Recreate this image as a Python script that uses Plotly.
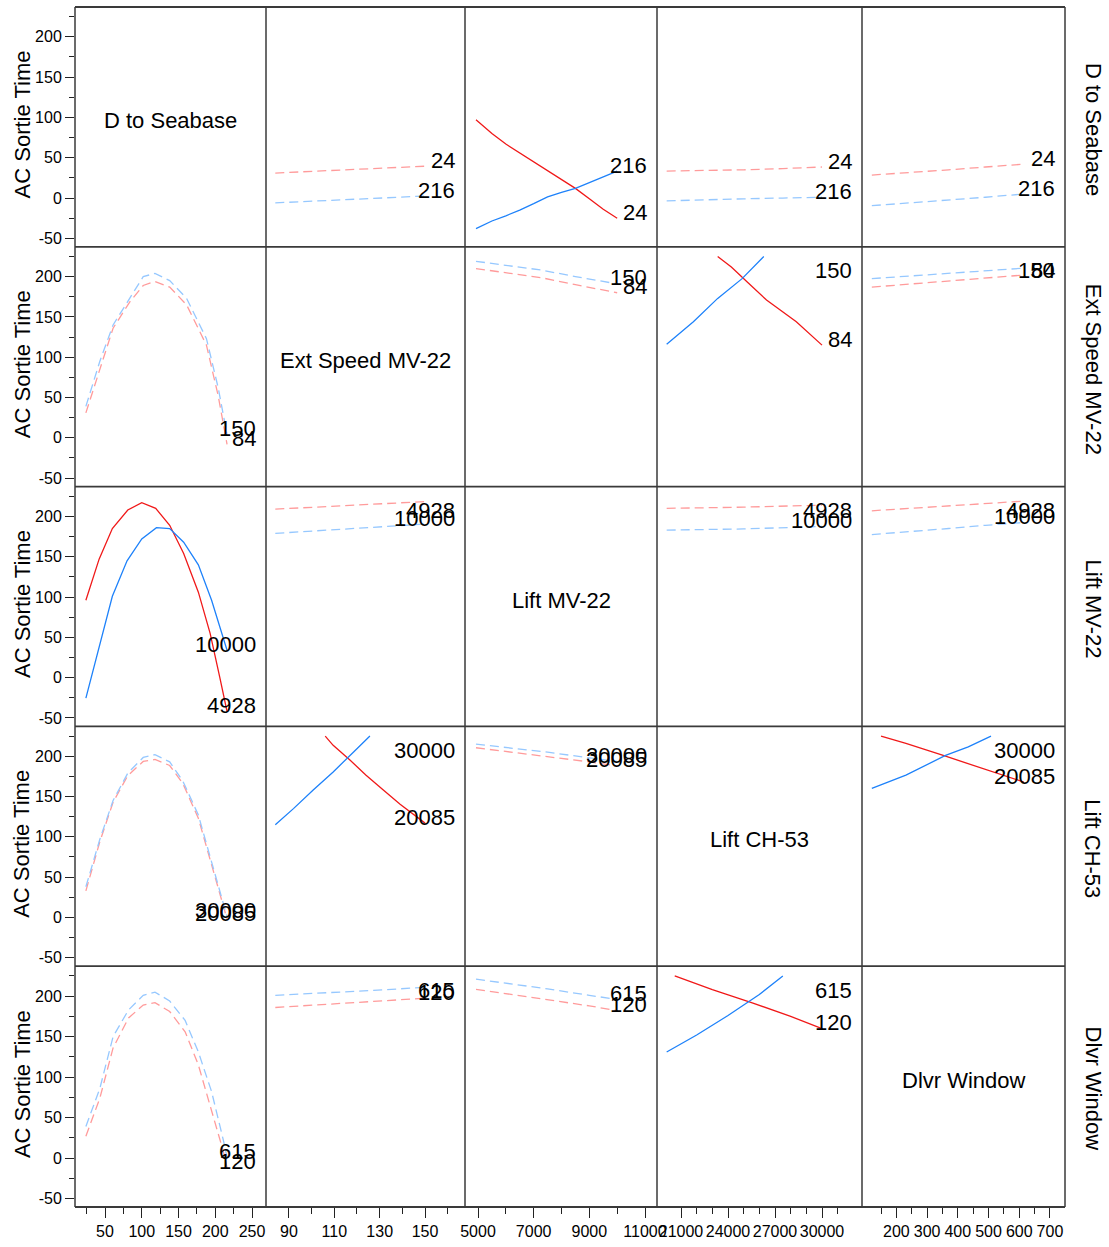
import plotly.graph_objects as go

# ---------------- data ----------------
factors = ["D to Seabase", "Ext Speed MV-22", "Lift MV-22", "Lift CH-53", "Dlvr Window"]
level_low = ["24", "84", "4928", "20085", "120"]      # red series labels (row factor low level)
level_high = ["216", "150", "10000", "30000", "615"]  # blue series labels (row factor high level)
y_title = "AC Sortie Time"

y_tickvals = [-50, 0, 50, 100, 150, 200]
y_ticktext = ["-50", "0", "50", "100", "150", "200"]
x_tickvals = [
    [50, 100, 150, 200, 250],
    [90, 110, 130, 150],
    [5000, 7000, 9000, 11000],
    [21000, 24000, 27000, 30000],
    [200, 300, 400, 500, 600, 700],
]
x_tickvals_minor = [
    [25, 75, 125, 175, 225],
    [100, 120, 140, 160],
    [6000, 8000, 10000],
    [22000, 23000, 25000, 26000, 28000, 29000, 31000],
    [150, 250, 350, 450, 550, 650],
]

# row 1: D to Seabase (24 red, 216 blue)
r1c2_x = [84, 100, 117, 133, 150]
r1c2_lo = [31, 33, 35, 37, 39.5]
r1c2_hi = [-6, -4, -2, 0, 2.5]
r1c3_x = [4928, 5500, 6000, 6500, 7000, 7500, 8000, 8500, 9000, 9500, 10000]
r1c3_lo = [97, 80, 67, 56, 44, 33, 23, 12, -1, -14, -25]
r1c3_hi = [-38, -28.5, -22, -15, -7, 1.5, 7, 12, 19, 26, 33.5]
r1c4_x = [20085, 22500, 25000, 27500, 30000]
r1c4_lo = [33.5, 34, 35, 36.5, 38.5]
r1c4_hi = [-3.5, -2, -1, 0, 1]
r1c5_x = [120, 250, 370, 490, 615]
r1c5_lo = [28.5, 31.5, 35, 38.5, 42]
r1c5_hi = [-9.5, -6, -3, 1, 5]

# row 2: Ext Speed MV-22 (84 red, 150 blue)
r2c1_x = [24, 43, 61, 84, 102, 118, 138, 161, 188, 204, 216]
r2c1_lo = [31, 86, 136, 169, 189, 194, 187, 165, 115, 52, -8]
r2c1_hi = [39, 95, 140, 173, 200, 204, 195, 173, 123, 62, 4]
r2c3_x = [4928, 6000, 7300, 8500, 10000]
r2c3_lo = [210, 205, 198.5, 190, 180]
r2c3_hi = [219, 214, 208, 200, 191]
r2c4_lo_x = [23340, 24213, 25245, 26458, 28360, 30000]
r2c4_lo = [225, 212, 193, 171, 144, 115]
r2c4_hi_x = [20085, 21791, 23342, 24900, 26285]
r2c4_hi = [116, 144, 173, 197.5, 225]
r2c5_x = [120, 250, 370, 490, 615]
r2c5_lo = [187, 191, 194.5, 198, 202]
r2c5_hi = [197.5, 201, 204, 207, 210.5]

# row 3: Lift MV-22 (4928 red, 10000 blue)
r3c1_lo_x = [24, 42, 60, 81, 100, 119, 138, 157, 177, 193, 206, 216]
r3c1_lo = [96, 147, 185, 208, 217, 210, 189, 154, 106, 55, 1, -42]
r3c1_hi_x = [24, 42, 60, 80, 100, 120, 138, 157, 177, 195, 216]
r3c1_hi = [-25.5, 38, 101, 145, 172, 186, 185, 168, 140, 96, 34]
r3c2_x = [84, 100, 117, 133, 150]
r3c2_lo = [209, 211, 213.5, 216, 218.5]
r3c2_hi = [179, 182, 185, 187.5, 190.5]
r3c4_x = [20085, 25000, 30000]
r3c4_lo = [210, 211.5, 214]
r3c4_hi = [183, 184.5, 187.5]
r3c5_x = [120, 250, 370, 490, 615]
r3c5_lo = [207, 210, 213, 216, 219]
r3c5_hi = [177.5, 181, 185, 189, 192.5]

# row 4: Lift CH-53 (20085 red, 30000 blue)
r4c1_x = [24, 43, 61, 81, 102, 118, 138, 156, 177, 195, 209, 216]
r4c1_lo = [33, 94, 143, 176, 193.5, 196, 188.5, 166, 123, 65, 20, -2]
r4c1_hi = [38, 97, 145, 179, 198.5, 202, 193, 169, 127, 70, 25, 1]
r4c2_lo_x = [106, 109.5, 117, 124, 131.6, 139, 150]
r4c2_lo = [225, 213.5, 195, 176.5, 158, 140.5, 117]
r4c2_hi_x = [84, 92, 100.7, 109.5, 118.4, 125.7]
r4c2_hi = [115, 135, 158, 180.5, 205, 225]
r4c3_x = [4928, 6000, 7500, 9000, 10000]
r4c3_lo = [210.5, 206, 200, 193, 188]
r4c3_hi = [215, 211, 205, 198, 193.5]
r4c5_lo_x = [150, 231, 360, 481, 615]
r4c5_lo = [225, 216, 200, 185, 168]
r4c5_hi_x = [120, 231, 360, 434, 508]
r4c5_hi = [160, 176.5, 201, 211.5, 225]

# row 5: Dlvr Window (120 red, 615 blue)
r5c1_x = [24, 43, 61, 82, 102, 118, 138, 159, 177, 195, 211, 216]
r5c1_lo = [27, 74, 136, 173, 189, 192, 181, 156, 115, 57.5, 8, -12]
r5c1_hi = [39, 86, 150, 183, 201, 205, 194, 170, 131, 82, 22, 1]
r5c2_x = [84, 100, 117, 133, 150]
r5c2_lo = [186, 188.5, 191.5, 194.5, 197.5]
r5c2_hi = [201, 203, 205.5, 208, 211]
r5c3_x = [4928, 6000, 7500, 9000, 10000]
r5c3_lo = [208.5, 203, 196, 188, 182]
r5c3_hi = [221, 216, 209, 201, 196]
r5c4_lo_x = [20600, 23000, 25500, 28000, 30000]
r5c4_lo = [225, 208, 192, 175, 160]
r5c4_hi_x = [20085, 22000, 24000, 26000, 27500]
r5c4_hi = [131, 152, 176, 202, 225]

significant_pairs = [(1, 3), (3, 1), (2, 4), (4, 2), (4, 5), (5, 4)]

cells = {
    (1, 2): (r1c2_x, r1c2_lo, r1c2_x, r1c2_hi),
    (1, 3): (r1c3_x, r1c3_lo, r1c3_x, r1c3_hi),
    (1, 4): (r1c4_x, r1c4_lo, r1c4_x, r1c4_hi),
    (1, 5): (r1c5_x, r1c5_lo, r1c5_x, r1c5_hi),
    (2, 1): (r2c1_x, r2c1_lo, r2c1_x, r2c1_hi),
    (2, 3): (r2c3_x, r2c3_lo, r2c3_x, r2c3_hi),
    (2, 4): (r2c4_lo_x, r2c4_lo, r2c4_hi_x, r2c4_hi),
    (2, 5): (r2c5_x, r2c5_lo, r2c5_x, r2c5_hi),
    (3, 1): (r3c1_lo_x, r3c1_lo, r3c1_hi_x, r3c1_hi),
    (3, 2): (r3c2_x, r3c2_lo, r3c2_x, r3c2_hi),
    (3, 4): (r3c4_x, r3c4_lo, r3c4_x, r3c4_hi),
    (3, 5): (r3c5_x, r3c5_lo, r3c5_x, r3c5_hi),
    (4, 1): (r4c1_x, r4c1_lo, r4c1_x, r4c1_hi),
    (4, 2): (r4c2_lo_x, r4c2_lo, r4c2_hi_x, r4c2_hi),
    (4, 3): (r4c3_x, r4c3_lo, r4c3_x, r4c3_hi),
    (4, 5): (r4c5_lo_x, r4c5_lo, r4c5_hi_x, r4c5_hi),
    (5, 1): (r5c1_x, r5c1_lo, r5c1_x, r5c1_hi),
    (5, 2): (r5c2_x, r5c2_lo, r5c2_x, r5c2_hi),
    (5, 3): (r5c3_x, r5c3_lo, r5c3_x, r5c3_hi),
    (5, 4): (r5c4_lo_x, r5c4_lo, r5c4_hi_x, r5c4_hi),
}

# ---------------- layout / style ----------------
W, H = 1109, 1247
ML, MR, MT, MB = 75, 44, 7, 34
col_px = [75, 266, 465, 657, 862, 1065]
row_px = [7, 248, 489, 730, 971, 1213]
PW, PH = W - ML - MR, H - MT - MB
col_dom = [((col_px[i] - ML) / PW, (col_px[i + 1] - ML) / PW) for i in range(5)]
row_dom = [((H - MB - row_px[i + 1]) / PH, (H - MB - row_px[i]) / PH) for i in range(5)]
x_ranges = [[9.2, 269], [79.9, 167.6], [4533, 11431], [19468, 32553], [88, 749]]
y_range = [-60.5, 237]

FONT = "Liberation Sans, Arial, sans-serif"
RED_SOLID, BLUE_SOLID = "rgb(240,25,25)", "rgb(30,130,250)"
RED_DASH, BLUE_DASH = "rgb(255,155,155)", "rgb(150,200,255)"
LABEL_CAP = 200

def ax(i):
    return "" if i == 1 else str(i)

fig = go.Figure()
annotations = []

for (r, c), (xl, yl, xh, yh) in cells.items():
    sig = (r, c) in significant_pairs
    for xs, ys, col_s, col_d in ((xl, yl, RED_SOLID, RED_DASH), (xh, yh, BLUE_SOLID, BLUE_DASH)):
        fig.add_trace(go.Scatter(
            x=xs, y=ys, mode="lines", showlegend=False, hoverinfo="skip",
            xaxis="x" + ax(c), yaxis="y" + ax(r),
            line=dict(color=col_s if sig else col_d, width=1.3,
                      dash="solid" if sig else "9px,5px"),
        ))
    for ys, txt in ((yl, level_low[r - 1]), (yh, level_high[r - 1])):
        annotations.append(dict(
            xref="x" + ax(c) + " domain", yref="y" + ax(r),
            x=1, y=min(ys[-1], LABEL_CAP), xanchor="right", yanchor="middle",
            xshift=-8, yshift=6, text=txt, showarrow=False,
            font=dict(family=FONT, size=22, color="black"),
        ))

# diagonal labels, right-side labels and y titles
for i, name in enumerate(factors, start=1):
    annotations.append(dict(
        xref="x" + ax(i) + " domain", yref="y" + ax(i) + " domain",
        x=0.5, y=0.5, yshift=6.5, text=name, showarrow=False,
        font=dict(family=FONT, size=22, color="black"),
    ))
    rc = (row_dom[i - 1][0] + row_dom[i - 1][1]) / 2
    annotations.append(dict(
        xref="paper", yref="paper", x=(1093 - ML) / PW, y=rc, yshift=-2,
        xanchor="center", yanchor="middle", textangle=90, text=name,
        showarrow=False, font=dict(family=FONT, size=22, color="black"),
    ))
    annotations.append(dict(
        xref="paper", yref="paper", x=(22 - ML) / PW, y=rc, yshift=2.5,
        xanchor="center", yanchor="middle", textangle=-90, text=y_title,
        showarrow=False, font=dict(family=FONT, size=22, color="black"),
    ))

layout = dict(
    width=W, height=H, margin=dict(l=ML, r=MR, t=MT, b=MB, pad=0),
    paper_bgcolor="white", plot_bgcolor="white", showlegend=False,
    annotations=annotations,
)

for c in range(1, 6):
    layout["xaxis" + ax(c)] = dict(
        domain=list(col_dom[c - 1]), range=x_ranges[c - 1], anchor="y5",
        showgrid=False, zeroline=False, showline=False,
        ticks="outside", ticklen=10, tickwidth=1, tickcolor="#222",
        tickmode="array", tickvals=x_tickvals[c - 1],
        ticktext=[str(v) for v in x_tickvals[c - 1]],
        tickfont=dict(family=FONT, size=16, color="black"),
        minor=dict(ticks="outside", ticklen=6, tickwidth=1, tickcolor="#222",
                   tickmode="array", tickvals=x_tickvals_minor[c - 1], showgrid=False),
        fixedrange=True,
    )
for r in range(1, 6):
    layout["yaxis" + ax(r)] = dict(
        domain=list(row_dom[r - 1]), range=y_range, anchor="x",
        showgrid=False, zeroline=False, showline=False,
        ticks="outside", ticklen=9, tickwidth=1, tickcolor="#222",
        tickmode="array", tickvals=y_tickvals, ticktext=y_ticktext,
        tickfont=dict(family=FONT, size=16, color="black"),
        minor=dict(ticks="outside", ticklen=5, tickwidth=1, tickcolor="#222",
                   dtick=25, tick0=0, showgrid=False),
        fixedrange=True,
    )

shapes = []
for yv in [0] + [d[1] for d in row_dom]:
    shapes.append(dict(type="line", xref="paper", yref="paper", x0=0, x1=1, y0=yv, y1=yv,
                       line=dict(color="#3a3a3a", width=1.8)))
for xv in [0] + [d[1] for d in col_dom]:
    shapes.append(dict(type="line", xref="paper", yref="paper", x0=xv, x1=xv, y0=0, y1=1,
                       line=dict(color="#3a3a3a", width=1.5)))
layout["shapes"] = shapes

fig.update_layout(**layout)
fig.write_html("out.html")
